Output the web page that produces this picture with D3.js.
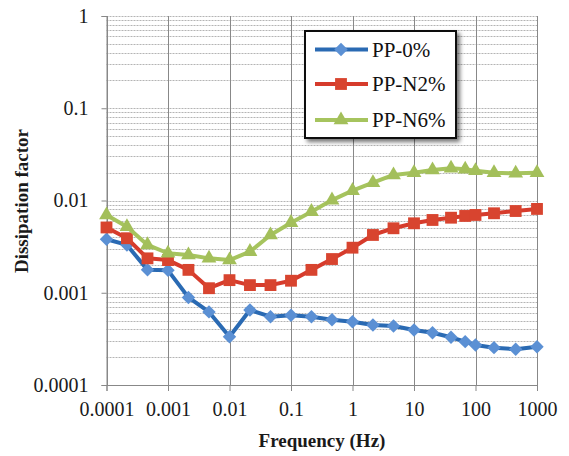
<!DOCTYPE html>
<html><head><meta charset="utf-8">
<script src="https://cdn.jsdelivr.net/npm/d3@7"></script>
<style>
html,body{margin:0;padding:0;background:#fff;}
svg{display:block;font-family:"Liberation Serif","Times New Roman",serif;}
</style></head>
<body>
<svg id="chart" width="569" height="456"></svg>
<script>
const freq = [0.0001, 0.000215, 0.000464, 0.001, 0.00215, 0.00464, 0.01, 0.0215, 0.0464, 0.1, 0.215, 0.464, 1, 2.15, 4.64, 10, 20, 40, 68, 100, 200, 450, 1000];
const pp0  = [0.0038, 0.0033, 0.00177, 0.00175, 0.00089, 0.00062, 0.000334, 0.00065, 0.00055, 0.00057, 0.00055, 0.00051, 0.000485, 0.000447, 0.000436, 0.000394, 0.000369, 0.000329, 0.000295, 0.000272, 0.000254, 0.000244, 0.00026];
const ppN2 = [0.0051, 0.0039, 0.00236, 0.00226, 0.00177, 0.00112, 0.00137, 0.00121, 0.00121, 0.00135, 0.00177, 0.00232, 0.00308, 0.00423, 0.0050, 0.00566, 0.00615, 0.00651, 0.0068, 0.00697, 0.00727, 0.00769, 0.0081];
const ppN6 = [0.00697, 0.0052, 0.0033, 0.00268, 0.00257, 0.00236, 0.00226, 0.00279, 0.00423, 0.00575, 0.00757, 0.0101, 0.0128, 0.0156, 0.0189, 0.020, 0.0214, 0.0224, 0.0218, 0.021, 0.020, 0.0197, 0.020];
const seriesNames = ["PP-0%", "PP-N2%", "PP-N6%"];
const xTickValues = [0.0001, 0.001, 0.01, 0.1, 1, 10, 100, 1000];
const xTickLabels = ["0.0001", "0.001", "0.01", "0.1", "1", "10", "100", "1000"];
const yTickValues = [0.0001, 0.001, 0.01, 0.1, 1];
const yTickLabels = ["0.0001", "0.001", "0.01", "0.1", "1"];
const xTitle = "Frequency (Hz)";
const yTitle = "Dissipation factor";

const FONT = '"Liberation Serif","Times New Roman",serif';
const svg = d3.select("#chart");
svg.append("rect").attr("width",569).attr("height",456).attr("fill","#fff");

const x = d3.scaleLog().domain([1e-4, 1e3]).range([106.5, 537]);
const y = d3.scaleLog().domain([1e-4, 1]).range([385, 16]);

// horizontal grid (minor + major), dotted
const hLines = [];
for (let e = -4; e < 0; e++) for (let m = 1; m < 10; m++) hLines.push(m * Math.pow(10, e));
hLines.push(1);
svg.append("g").selectAll("line").data(hLines).join("line")
  .attr("x1", x(1e-4)).attr("x2", x(1e3))
  .attr("y1", d => Math.round(y(d)) + 0.5).attr("y2", d => Math.round(y(d)) + 0.5)
  .attr("stroke", "#b4b4b4").attr("stroke-width", 1).attr("stroke-dasharray", "2,1");

// vertical major grid
svg.append("g").selectAll("line").data(xTickValues).join("line")
  .attr("x1", d => Math.round(x(d)) + 0.5).attr("x2", d => Math.round(x(d)) + 0.5)
  .attr("y1", y(1)).attr("y2", y(1e-4))
  .attr("stroke", "#888").attr("stroke-width", 1);

// axes
const xAxis = d3.axisBottom(x).tickValues(xTickValues)
  .tickFormat((d, i) => xTickLabels[i]).tickSize(6).tickPadding(11);
const gx = svg.append("g").attr("transform", `translate(0,${y(1e-4)})`).call(xAxis);
gx.select(".domain").attr("stroke", "#888");
gx.selectAll(".tick line").attr("stroke", "#888");
gx.selectAll("text").attr("font-size", 20).attr("fill", "#1a1a1a").attr("font-family", FONT);

const yAxis = d3.axisLeft(y).tickValues(yTickValues)
  .tickFormat((d, i) => yTickLabels[i]).tickSize(5).tickPadding(13);
const gy = svg.append("g").attr("transform", `translate(${x(1e-4)},0)`).call(yAxis);
gy.select(".domain").attr("stroke", "#888");
gy.selectAll(".tick line").attr("stroke", "#888");
gy.selectAll("text").attr("font-size", 20).attr("fill", "#1a1a1a").attr("font-family", FONT);

// titles
svg.append("text").attr("x", 322).attr("y", 447).attr("text-anchor", "middle").attr("font-family", FONT)
  .attr("font-size", 19).attr("font-weight", "bold").attr("fill", "#1a1a1a").text(xTitle);
svg.append("text").attr("transform", "translate(28,201) rotate(-90)").attr("text-anchor", "middle").attr("font-family", FONT)
  .attr("font-size", 19).attr("font-weight", "bold").attr("fill", "#1a1a1a").text(yTitle);

// series
const series = [
  {name: seriesNames[0], vals: pp0, line: "#2a6ab3", fill: "#5b90d4", sym: d3.symbolDiamond2, size: 115},
  {name: seriesNames[1], vals: ppN2, line: "#d63b2c", fill: "#d8442f", sym: d3.symbolSquare, size: 140},
  {name: seriesNames[2], vals: ppN6, line: "#a6c45e", fill: "#a3bf5a", sym: d3.symbolTriangle, size: 95}
];
const lineGen = d3.line().x(d => x(d[0])).y(d => y(d[1]));
series.forEach(s => {
  const pts = freq.map((f, i) => [f, s.vals[i]]);
  svg.append("path").datum(pts).attr("d", lineGen).attr("fill", "none")
    .attr("stroke", s.line).attr("stroke-width", 4).attr("stroke-linejoin", "round");
  svg.append("g").selectAll("path").data(pts).join("path")
    .attr("transform", d => `translate(${x(d[0])},${y(d[1])})`)
    .attr("d", d3.symbol().type(s.sym).size(s.size)).attr("fill", s.fill);
});

// legend
const defs = svg.append("defs");
const f = defs.append("filter").attr("id", "shadow").attr("x", "-10%").attr("y", "-10%").attr("width", "130%").attr("height", "130%");
f.append("feDropShadow").attr("dx", 3).attr("dy", 3).attr("stdDeviation", 2).attr("flood-color", "#000").attr("flood-opacity", 0.55);
const lg = svg.append("g");
lg.append("rect").attr("x", 305).attr("y", 31).attr("width", 151).attr("height", 107)
  .attr("fill", "#fff").attr("stroke", "#111").attr("stroke-width", 2).attr("filter", "url(#shadow)");
const rowY = [49.5, 84, 120];
series.forEach((s, i) => {
  lg.append("line").attr("x1", 315).attr("x2", 368).attr("y1", rowY[i]).attr("y2", rowY[i])
    .attr("stroke", s.line).attr("stroke-width", 4);
  lg.append("path").attr("transform", `translate(341,${rowY[i]})`)
    .attr("d", d3.symbol().type(s.sym).size(s.size)).attr("fill", s.fill);
  lg.append("text").attr("x", 372).attr("y", rowY[i]).attr("dy", "0.35em").attr("font-family", FONT)
    .attr("font-size", 21).attr("fill", "#111").text(s.name);
});
</script>
</body></html>
